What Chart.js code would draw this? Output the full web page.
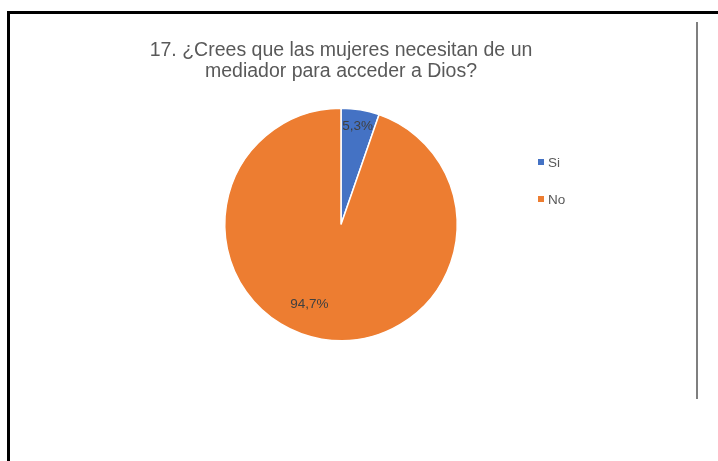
<!DOCTYPE html>
<html>
<head>
<meta charset="utf-8">
<script src="https://cdn.jsdelivr.net/npm/chart.js@4.4.1/dist/chart.umd.min.js"></script>
<style>
  body { margin: 0; background: #fff; }
  #wrap { position: relative; width: 718px; height: 461px; overflow: hidden; }
  #frame { position: absolute; left: 7px; top: 11px; width: 800px; height: 600px;
           border-left: 3px solid #000; border-top: 3px solid #000; }
  #rule { position: absolute; left: 696px; top: 22px; width: 1.5px; height: 377px; background: #7f7f7f; }
  canvas { position: absolute; left: 0; top: 0; }
</style>
</head>
<body>
<div id="wrap">
  <div id="frame"></div>
  <div id="rule"></div>
  <canvas id="pieChart" width="718" height="461"></canvas>
</div>
<script>
const titleLines = ["17. ¿Crees que las mujeres necesitan de un", "mediador para acceder a Dios?"];
const categories = ["Si", "No"];
const percentages = [5.3, 94.7];
const sliceColors = ["#4472C4", "#ED7D31"];

// where each value label sits: fraction of radius and angle shift (degrees)
const labelPlacement = [{ frac: 0.86, shift: 0 }, { frac: 0.74, shift: 12 }];

const textFont = "'Liberation Sans', Arial, sans-serif";

const overlayPlugin = {
  id: 'overlay',
  afterDraw(chart) {
    const ctx = chart.ctx;
    ctx.save();

    // title
    ctx.fillStyle = '#595959';
    ctx.font = '19.5px ' + textFont;
    ctx.textAlign = 'center';
    ctx.textBaseline = 'alphabetic';
    titleLines.forEach((line, i) => ctx.fillText(line, 341, 56 + i * 21));

    // value labels
    const meta = chart.getDatasetMeta(0);
    ctx.fillStyle = '#404040';
    ctx.font = '13.5px ' + textFont;
    ctx.textBaseline = 'middle';
    meta.data.forEach((arc, i) => {
      const p = arc.getProps(['x', 'y', 'startAngle', 'endAngle', 'outerRadius'], true);
      const mid = (p.startAngle + p.endAngle) / 2 + labelPlacement[i].shift * Math.PI / 180;
      const r = p.outerRadius * labelPlacement[i].frac;
      const txt = chart.data.datasets[0].data[i].toFixed(1).replace('.', ',') + '%';
      ctx.fillText(txt, p.x + Math.cos(mid) * r, p.y + Math.sin(mid) * r);
    });

    // legend
    ctx.textAlign = 'left';
    ctx.font = '13.5px ' + textFont;
    chart.data.labels.forEach((lab, i) => {
      const y = 162 + i * 37;
      ctx.fillStyle = sliceColors[i];
      ctx.fillRect(538, y - 3, 6, 6);
      ctx.fillStyle = '#595959';
      ctx.fillText(lab, 548, y + 1);
    });

    ctx.restore();
  }
};

new Chart(document.getElementById('pieChart'), {
  type: 'pie',
  data: {
    labels: categories,
    datasets: [{
      data: percentages,
      backgroundColor: sliceColors,
      borderColor: '#ffffff',
      borderWidth: 1.5
    }]
  },
  options: {
    responsive: false,
    animation: false,
    layout: { padding: { left: 224, right: 260, top: 106, bottom: 118 } },
    plugins: {
      legend: { display: false },
      title: { display: false },
      tooltip: { enabled: false }
    }
  },
  plugins: [overlayPlugin]
});
</script>
</body>
</html>
